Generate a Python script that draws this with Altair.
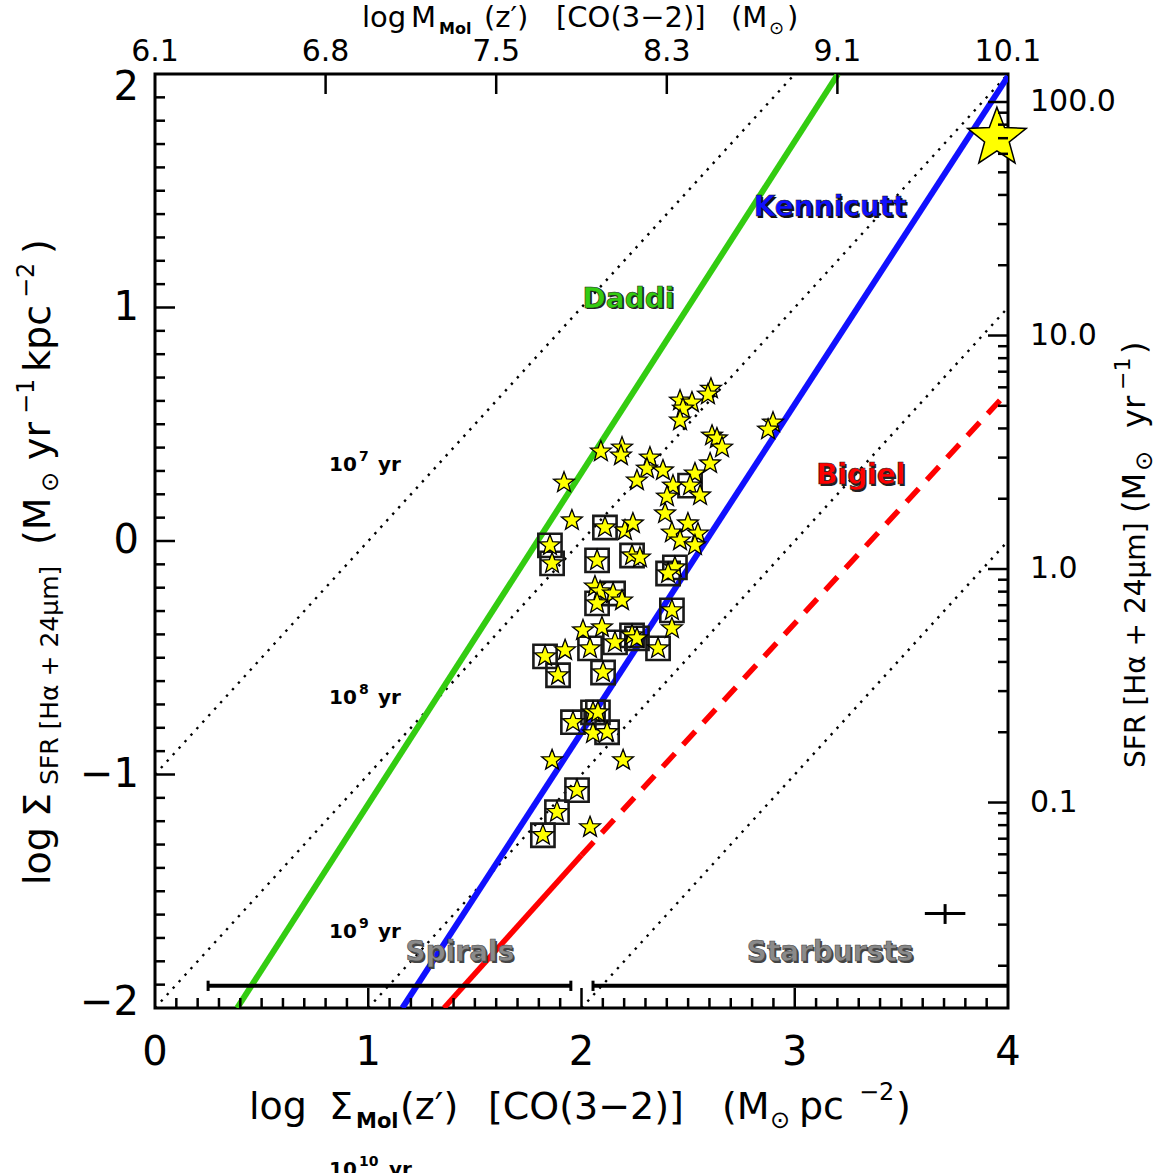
import altair as alt
import pandas as pd

FONT = "DejaVu Sans"
W, H = 853, 934          # plot area
LEFT, TOP = 155, 74      # plot origin inside the page

GREEN = "#33cc11"
BLUE = "#1010ff"
RED = "#ff0000"
YELLOW = "#ffff00"

# ---- CO(3-2) regions: log Sigma_mol, log Sigma_SFR, boxed flag ----
star_x = [2.607, 2.593, 2.462, 2.518, 2.476, 2.462, 2.898, 2.875, 2.612, 2.635,
          2.659, 2.091, 2.190, 2.185, 2.603, 2.321, 2.307, 2.382, 2.260, 1.918,
          2.532, 2.429, 2.509, 2.556, 2.401, 2.392, 1.955, 2.110, 2.204, 2.241,
          2.424, 2.499, 2.546, 2.462, 2.532, 1.852, 1.862, 2.073, 2.237, 2.274,
          2.438, 2.406, 2.063, 2.087, 2.148, 2.190, 2.073, 2.424, 2.424, 2.007,
          2.096, 2.157, 2.040, 2.237, 2.260, 2.359, 1.829, 1.923, 1.890, 2.101,
          2.054, 2.077, 1.960, 2.054, 2.120, 1.862, 2.195, 1.979, 1.885, 2.040, 1.819]
star_y = [0.652, 0.627, 0.601, 0.593, 0.567, 0.516, 0.507, 0.477, 0.451, 0.439,
          0.400, 0.383, 0.400, 0.366, 0.332, 0.357, 0.310, 0.302, 0.259, 0.250,
          0.289, 0.237, 0.237, 0.195, 0.190, 0.118, 0.088, 0.058, 0.045, 0.075,
          0.036, 0.075, 0.032, 0.002, -0.019, -0.019, -0.096, -0.083, -0.062, -0.071,
          -0.113, -0.139, -0.195, -0.216, -0.225, -0.255, -0.267, -0.297, -0.374, -0.383,
          -0.370, -0.434, -0.460, -0.404, -0.417, -0.460, -0.494, -0.468, -0.575, -0.563,
          -0.734, -0.734, -0.776, -0.824, -0.819, -0.939, -0.939, -1.067, -1.161, -1.226, -1.260]
star_boxed = [0, 0, 0, 0, 0, 0, 0, 0, 0, 0,
              0, 0, 0, 0, 0, 0, 0, 0, 0, 0,
              0, 0, 1, 0, 0, 0, 0, 1, 0, 0,
              0, 0, 0, 0, 0, 1, 1, 1, 1, 0,
              1, 1, 0, 0, 1, 0, 1, 1, 0, 0,
              0, 1, 1, 1, 1, 1, 1, 0, 1, 1,
              1, 1, 1, 0, 1, 0, 0, 1, 1, 0, 1]

# whole-galaxy point
total_x = [3.948]
total_y = [1.726]

# star-formation relations (end points)
daddi_x, daddi_y = [0.385, 3.203], [-2.0, 2.0]
kenn_x, kenn_y = [1.16, 4.0], [-2.0, 1.99]
bigiel_x, bigiel_y = [1.355, 2.0], [-2.0, -1.345]
bigiel_ext_x, bigiel_ext_y = [2.0, 4.0], [-1.345, 0.64]

# constant depletion-time lines
tau_names = ["1e7", "1e8", "1e9", "1e10"]
tau_exp = ["7", "8", "9", "10"]
tau_x0, tau_y0 = [0.0, 0.0, 1.0, 2.0], [-1.0, -2.0, -2.0, -2.0]
tau_x1, tau_y1 = [3.0, 4.0, 4.0, 4.0], [2.0, 2.0, 1.0, 0.0]
tau_label_x = 0.816
tau_label_y = [0.30, -0.70, -1.70, -2.72]

# regimes along the bottom
spirals_range = [0.249, 1.95]
starburst_range = [2.054, 4.0]
regime_y = -1.905

# typical uncertainty
err_x, err_y = 3.705, -1.595
err_dx, err_dy = [3.61, 3.80], [-1.555, -1.64]

# axes
x_major = [0, 1, 2, 3, 4]
x_labels = ["0", "1", "2", "3", "4"]
y_major = [-1, 0, 1]
y_labels_all = ["\u22122", "\u22121", "0", "1", "2"]
top_pos = [0.0, 0.8, 1.6, 2.4, 3.2, 4.0]
top_labels = ["6.1", "6.8", "7.5", "8.3", "9.1", "10.1"]
sfr_major = [0.1, 1.0, 10.0, 100.0]
sfr_labels = ["0.1", "1.0", "10.0", "100.0"]
sfr_minor = [k * d for d in (0.01, 0.1, 1.0, 10.0) for k in range(2, 10)]
LOG_AREA = 0.12   # log SFR = log Sigma_SFR + LOG_AREA

xs = alt.Scale(domain=[0, 4], nice=False, zero=False)
ys = alt.Scale(domain=[-2, 2], nice=False, zero=False)


def X(f):
    return alt.X(f, type="quantitative", scale=xs, axis=None)


def Y(f):
    return alt.Y(f, type="quantitative", scale=ys, axis=None)


STAR = ("M0,-1L0.2469,-0.3398L0.9511,-0.309L0.3995,0.1298L0.5878,0.809L0,0.42"
        "L-0.5878,0.809L-0.3995,0.1298L-0.9511,-0.309L-0.2469,-0.3398Z")

layers = []

# depletion-time lines
tau_df = pd.DataFrame({
    "x": tau_x0 + tau_x1, "y": tau_y0 + tau_y1, "tau": tau_names + tau_names})
layers.append(alt.Chart(tau_df).mark_line(
    color="black", strokeWidth=2.4, strokeDash=[2.4, 6.4], clip=True
).encode(x=X("x"), y=Y("y"), detail="tau:N"))


def relation(xv, yv, color, width, dash=None):
    kw = dict(color=color, strokeWidth=width, clip=True, strokeCap="butt")
    if dash:
        kw["strokeDash"] = dash
    return alt.Chart(pd.DataFrame({"x": xv, "y": yv})).mark_line(**kw).encode(
        x=X("x"), y=Y("y"))


layers += [
    relation(daddi_x, daddi_y, GREEN, 6),
    relation(kenn_x, kenn_y, BLUE, 6),
    relation(bigiel_x, bigiel_y, RED, 5.5),
    relation(bigiel_ext_x, bigiel_ext_y, RED, 5.5, dash=[18, 12]),
]

# regime bars
bars = pd.DataFrame({"x": [spirals_range[0], starburst_range[0]],
                     "x2": [spirals_range[1], starburst_range[1]],
                     "y": [regime_y, regime_y]})
layers.append(alt.Chart(bars).mark_rule(color="black", strokeWidth=4).encode(
    x=X("x"), x2="x2:Q", y=Y("y")))
caps = pd.DataFrame({"x": [spirals_range[0], spirals_range[1], starburst_range[0]],
                     "y": [regime_y - 0.022] * 3, "y2": [regime_y + 0.022] * 3})
layers.append(alt.Chart(caps).mark_rule(color="black", strokeWidth=3).encode(
    x=X("x"), y=Y("y"), y2="y2:Q"))

# error cross
layers.append(alt.Chart(pd.DataFrame({"x": [err_dx[0]], "x2": [err_dx[1]], "y": [err_y]}))
              .mark_rule(color="black", strokeWidth=3).encode(x=X("x"), x2="x2:Q", y=Y("y")))
layers.append(alt.Chart(pd.DataFrame({"x": [err_x], "y": [err_dy[0]], "y2": [err_dy[1]]}))
              .mark_rule(color="black", strokeWidth=3).encode(x=X("x"), y=Y("y"), y2="y2:Q"))

# regions
stars = pd.DataFrame({"x": star_x, "y": star_y, "boxed": star_boxed})
layers.append(alt.Chart(stars).transform_filter("datum.boxed == 1").mark_point(
    shape="square", size=540, filled=False, color="#1a1a1a", strokeWidth=2.6, opacity=1
).encode(x=X("x"), y=Y("y")))
layers.append(alt.Chart(stars).mark_point(
    shape=STAR, size=480, filled=True, fill=YELLOW, stroke="black", strokeWidth=1.3,
    opacity=1, fillOpacity=1, strokeOpacity=1
).encode(x=X("x"), y=Y("y")))
layers.append(alt.Chart(pd.DataFrame({"x": total_x, "y": total_y})).mark_point(
    shape=STAR, size=3800, filled=True, fill=YELLOW, stroke="black", strokeWidth=1.5,
    opacity=1, fillOpacity=1, strokeOpacity=1
).encode(x=X("x"), y=Y("y")))

# depletion-time labels: "10", raised exponent, "yr"
for ex, ly in zip(tau_exp, tau_label_y):
    df = pd.DataFrame({"x": [tau_label_x], "y": [ly]})
    bold = dict(font=FONT, fontWeight="bold", align="left", baseline="alphabetic",
                color="black")
    ydx = 49 if len(ex) == 1 else 60
    layers += [
        alt.Chart(df).mark_text(text="10", fontSize=20, **bold).encode(x=X("x"), y=Y("y")),
        alt.Chart(df).mark_text(text=ex, fontSize=14, dx=30, dy=-10, **bold).encode(
            x=X("x"), y=Y("y")),
        alt.Chart(df).mark_text(text="yr", fontSize=20, dx=ydx, **bold).encode(
            x=X("x"), y=Y("y")),
    ]


# relation / regime names with a drop shadow
def tag(text, x, y, color, shade):
    df = pd.DataFrame({"x": [x], "y": [y], "t": [text]})
    common = dict(font=FONT, fontSize=28, fontWeight="bold", align="center",
                  baseline="alphabetic")
    back = alt.Chart(df).mark_text(color=shade, dx=1.6, dy=1.6, **common).encode(
        x=X("x"), y=Y("y"), text="t:N")
    front = alt.Chart(df).mark_text(color=color, stroke=shade, strokeWidth=0.6,
                                    **common).encode(x=X("x"), y=Y("y"), text="t:N")
    return [back, front]


layers += tag("Daddi", 2.22, 1.0, GREEN, "#222222")
layers += tag("Kennicutt", 3.166, 1.392, BLUE, "#111111")
layers += tag("Bigiel", 3.31, 0.244, RED, "#222222")
layers += tag("Spirals", 1.43, -1.80, "#8a8a8a", "#444444")
layers += tag("Starbursts", 3.166, -1.80, "#8a8a8a", "#444444")

# ---- inward ticks ----
x_minor = [round(i * 0.1, 1) for i in range(1, 40) if i % 10]
y_minor = [round(-2 + i * 0.1, 1) for i in range(1, 40) if i % 10]


def vticks(vals, y0, y1):
    return alt.Chart(pd.DataFrame({"v": vals})).mark_rule(color="black", strokeWidth=2.5).encode(
        x=X("v"), y=alt.value(y0), y2=alt.value(y1))


def hticks(vals, x0, x1, calc=None):
    c = alt.Chart(pd.DataFrame({"v": vals}))
    field = "v"
    if calc:
        c = c.transform_calculate(ly=calc)
        field = "ly"
    return c.mark_rule(color="black", strokeWidth=2.5).encode(
        y=Y(field), x=alt.value(x0), x2=alt.value(x1))


sfr_pos = "log(datum.v) / LN10 - %g" % LOG_AREA
layers += [
    vticks(x_minor, H, H - 10), vticks(x_major[1:-1], H, H - 20),
    vticks(top_pos[1:-1], 0, 20),
    hticks(y_minor, 0, 10), hticks(y_major, 0, 20),
    hticks(sfr_minor, W, W - 10, sfr_pos), hticks(sfr_major, W, W - 20, sfr_pos),
]

# ---- tick labels ----
layers.append(alt.Chart(pd.DataFrame({"v": x_major, "t": x_labels})).mark_text(
    font=FONT, fontSize=40, align="center", baseline="middle", color="black"
).encode(x=X("v"), y=alt.value(979), text="t:N"))

ylab = pd.DataFrame({"v": [-2, -1, 0, 1, 2], "t": y_labels_all})
for test, dy in (("abs(datum.v) < 2", 0), ("datum.v == 2", 14), ("datum.v == -2", -5)):
    layers.append(alt.Chart(ylab).transform_filter(test).mark_text(
        font=FONT, fontSize=40, align="right", baseline="middle", color="black", dy=dy
    ).encode(y=Y("v"), x=alt.value(-16), text="t:N"))

layers.append(alt.Chart(pd.DataFrame({"v": top_pos, "t": top_labels})).mark_text(
    font=FONT, fontSize=30, align="center", baseline="middle", color="black"
).encode(x=X("v"), y=alt.value(-22), text="t:N"))

layers.append(alt.Chart(pd.DataFrame({"v": sfr_major, "t": sfr_labels}))
              .transform_calculate(ly=sfr_pos).mark_text(
    font=FONT, fontSize=30, align="left", baseline="middle", color="black"
).encode(y=Y("ly"), x=alt.value(875), text="t:N"))


# ---- axis titles, built from pieces (page coordinates) ----
def seg(text, cx, cy, size, angle=0, bold=False):
    return alt.Chart(pd.DataFrame({"t": [text]})).mark_text(
        font=FONT, fontSize=size, fontWeight="bold" if bold else "normal",
        angle=angle, align="left", baseline="alphabetic", color="black"
    ).encode(x=alt.value(cx - LEFT), y=alt.value(cy - TOP), text="t:N")


# bottom
layers += [
    seg("log", 249, 1119, 38), seg("\u03a3", 329, 1119, 38),
    seg("Mol", 356, 1128, 21, bold=True),
    seg("(z\u2032)", 400, 1119, 38), seg("[CO(3\u22122)]", 488, 1119, 38),
    seg("(M", 722, 1119, 38), seg("\u2299", 770, 1128, 24),
    seg("pc", 799, 1119, 38), seg("\u22122", 859, 1100, 24), seg(")", 896, 1119, 38),
]
# top
layers += [
    seg("log", 362, 27, 29), seg("M", 411, 27, 29), seg("Mol", 439, 34, 16, bold=True),
    seg("(z\u2032)", 484, 27, 29), seg("[CO(3\u22122)]", 556, 27, 29),
    seg("(M", 731, 27, 29), seg("\u2299", 769, 34, 18), seg(")", 787, 27, 29),
]
# left (reads upward)
layers += [
    seg("log", 50, 885, 38, angle=270), seg("\u03a3", 50, 817, 38, angle=270),
    seg("SFR [H\u03b1 + 24\u03bcm]", 58, 785, 25, angle=270),
    seg("(M", 50, 545, 38, angle=270), seg("\u2299", 58, 492, 24, angle=270),
    seg("yr", 50, 460, 38, angle=270), seg("\u22121", 34, 414, 24, angle=270),
    seg("kpc", 50, 372, 38, angle=270), seg("\u22122", 34, 298, 24, angle=270),
    seg(")", 50, 254, 38, angle=270),
]
# right (reads upward)
layers += [
    seg("SFR [H\u03b1 + 24\u03bcm]", 1145, 768, 28, angle=270),
    seg("(M", 1145, 513, 32, angle=270), seg("\u2299", 1152, 471, 24, angle=270),
    seg("yr", 1145, 428, 32, angle=270), seg("\u22121", 1130, 390, 22, angle=270),
    seg(")", 1145, 354, 32, angle=270),
]

chart = alt.layer(*layers).properties(
    width=W, height=H,
    padding={"left": LEFT, "top": TOP, "right": 1158 - LEFT - W, "bottom": 1173 - TOP - H},
    autosize=alt.AutoSizeParams(type="none"),
    background="white",
).configure_view(stroke="black", strokeWidth=3)

chart.save("out.html", embed_options={"renderer": "svg", "actions": False})
